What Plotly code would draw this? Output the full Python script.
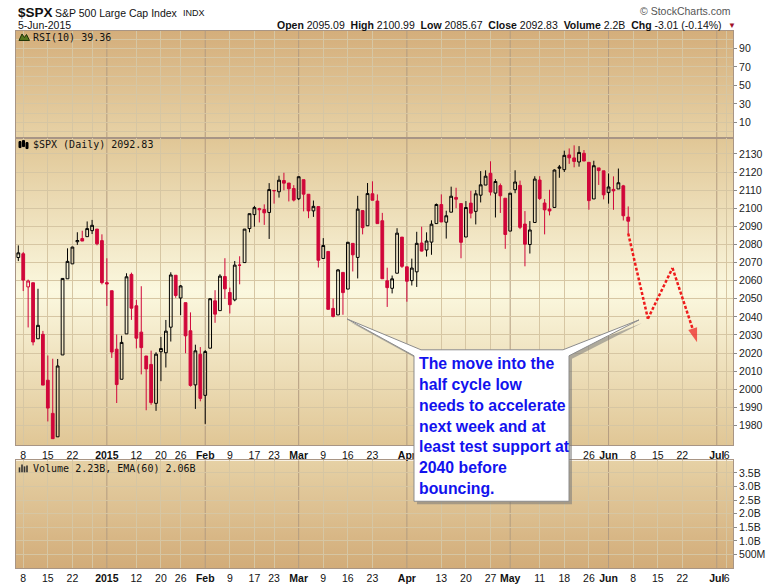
import base64
import pandas as pd
import plotly.graph_objects as go

# ---------------- data ----------------
opens = [2072.78, 2074.84, 2056.55, 2058.86, 2027.92, 2030.36, 2005.03, 1986.71, 1973.77, 2018.98,
         2061.04, 2069.28, 2081.48, 2083.25, 2084.30, 2087.63, 2088.49, 2082.11, 2058.90, 2054.44,
         2022.15, 2005.55, 2030.61, 2063.45, 2046.13, 2031.58, 2018.40, 2013.75, 1992.25, 2020.76,
         2020.19, 2034.30, 2062.98, 2050.42, 2047.86, 2032.34, 2002.45, 2019.35, 1996.67, 2022.71,
         2048.86, 2043.45, 2062.28, 2053.47, 2049.38, 2068.55, 2069.98, 2088.78, 2096.47, 2099.16,
         2099.25, 2097.65, 2109.83, 2109.10, 2115.30, 2113.91, 2110.88, 2105.23, 2115.76, 2107.72,
         2098.54, 2100.91, 2072.25, 2076.14, 2044.69, 2041.10, 2064.56, 2055.35, 2080.59, 2072.84,
         2098.69, 2090.32, 2107.99, 2103.94, 2093.10, 2059.94, 2055.78, 2064.11, 2084.05, 2067.63,
         2060.03, 2064.87, 2080.79, 2076.94, 2081.29, 2091.51, 2102.03, 2092.28, 2097.82, 2105.96,
         2102.58, 2084.11, 2102.82, 2098.27, 2107.21, 2112.80, 2119.29, 2108.35, 2112.49, 2105.52,
         2087.38, 2110.23, 2112.63, 2091.26, 2079.96, 2092.13, 2115.56, 2102.87, 2099.62, 2100.43,
         2122.07, 2121.30, 2129.45, 2127.79, 2125.55, 2130.36, 2125.34, 2105.13, 2122.27, 2120.66,
         2108.64, 2110.41, 2110.64, 2112.35, 2095.09]
highs = [2079.47, 2075.78, 2060.60, 2058.86, 2055.53, 2032.25, 2018.69, 2016.89, 2016.75, 2061.23,
         2077.85, 2078.76, 2086.73, 2087.56, 2092.70, 2093.55, 2088.49, 2085.58, 2072.36, 2054.44,
         2030.25, 2029.61, 2064.08, 2064.43, 2049.30, 2056.93, 2018.40, 2021.35, 2020.46, 2028.94,
         2038.29, 2064.62, 2062.98, 2057.62, 2047.86, 2042.49, 2024.64, 2023.32, 2021.66, 2050.30,
         2054.74, 2063.55, 2072.40, 2056.16, 2070.86, 2073.48, 2088.53, 2097.03, 2101.30, 2100.23,
         2102.13, 2113.86, 2110.05, 2117.94, 2119.59, 2113.91, 2112.74, 2117.52, 2115.76, 2107.72,
         2104.25, 2100.91, 2083.49, 2076.14, 2050.08, 2066.41, 2064.56, 2081.41, 2080.59, 2106.85,
         2098.69, 2113.92, 2114.86, 2107.63, 2097.43, 2067.15, 2062.83, 2088.97, 2084.05, 2067.63,
         2072.17, 2086.99, 2089.81, 2086.69, 2093.31, 2102.61, 2107.65, 2098.62, 2111.91, 2111.30,
         2102.58, 2103.94, 2109.64, 2109.98, 2120.49, 2120.92, 2125.92, 2116.04, 2113.65, 2105.52,
         2108.41, 2120.95, 2115.24, 2098.42, 2092.90, 2117.66, 2117.69, 2105.06, 2110.19, 2121.45,
         2123.89, 2131.78, 2133.02, 2134.72, 2134.28, 2132.15, 2125.34, 2126.22, 2122.27, 2120.66,
         2119.15, 2117.59, 2121.92, 2112.89, 2100.99]
lows = [2070.81, 2054.27, 2034.17, 2024.26, 2027.92, 2002.33, 1982.26, 1972.56, 1973.77, 2018.98,
        2061.03, 2069.28, 2079.77, 2081.86, 2084.30, 2085.75, 2079.53, 2057.94, 2046.04, 2017.34,
        1992.44, 2005.55, 2030.61, 2038.33, 2022.58, 2008.25, 1988.44, 1991.47, 1988.12, 2004.49,
        2012.04, 2026.38, 2050.54, 2040.97, 2019.91, 2001.49, 1989.18, 1993.38, 1980.90, 2022.71,
        2036.72, 2043.45, 2049.97, 2041.88, 2048.62, 2057.99, 2069.98, 2086.70, 2089.80, 2092.15,
        2090.79, 2083.04, 2102.54, 2105.87, 2109.89, 2103.76, 2103.75, 2104.50, 2098.26, 2094.49,
        2095.22, 2067.27, 2072.21, 2044.16, 2039.69, 2041.10, 2041.17, 2055.35, 2065.08, 2061.23,
        2085.56, 2090.32, 2104.42, 2091.50, 2061.05, 2045.50, 2052.96, 2064.11, 2067.04, 2048.38,
        2057.32, 2056.52, 2076.10, 2073.30, 2074.29, 2091.51, 2092.33, 2083.24, 2097.82, 2100.02,
        2072.37, 2084.11, 2094.38, 2091.05, 2103.19, 2112.80, 2107.04, 2094.89, 2097.41, 2077.59,
        2087.38, 2108.29, 2088.46, 2067.93, 2074.99, 2092.13, 2104.58, 2085.57, 2096.04, 2100.43,
        2116.81, 2120.01, 2124.50, 2122.59, 2122.95, 2126.06, 2099.18, 2105.13, 2112.86, 2104.89,
        2102.54, 2099.14, 2110.64, 2093.23, 2085.67]
closes = [2075.37, 2060.31, 2059.82, 2026.14, 2035.33, 2002.33, 1989.63, 1972.74, 2012.89, 2061.23,
          2070.65, 2078.54, 2082.17, 2081.88, 2088.77, 2090.57, 2080.35, 2058.90, 2058.20, 2020.58,
          2002.61, 2025.90, 2062.14, 2044.81, 2028.26, 2023.03, 2011.27, 1992.67, 2019.42, 2022.55,
          2032.12, 2063.15, 2051.82, 2057.09, 2029.55, 2002.16, 2021.25, 1994.99, 2020.85, 2050.03,
          2041.51, 2062.52, 2055.47, 2046.74, 2068.59, 2068.53, 2088.48, 2096.99, 2100.34, 2099.68,
          2097.45, 2110.30, 2109.66, 2115.48, 2113.86, 2110.74, 2104.50, 2117.39, 2107.78, 2098.53,
          2101.04, 2071.26, 2079.43, 2044.16, 2040.24, 2065.95, 2053.40, 2081.19, 2074.28, 2099.50,
          2089.27, 2108.10, 2104.42, 2091.50, 2061.05, 2056.15, 2061.02, 2086.24, 2067.89, 2059.69,
          2066.96, 2080.62, 2076.33, 2081.90, 2091.18, 2102.06, 2092.43, 2095.84, 2106.63, 2104.99,
          2081.18, 2100.40, 2097.29, 2107.96, 2112.93, 2117.69, 2108.92, 2114.76, 2106.85, 2085.51,
          2108.29, 2114.49, 2089.46, 2080.15, 2088.00, 2116.10, 2105.33, 2099.12, 2098.48, 2121.10,
          2122.73, 2129.20, 2127.83, 2125.85, 2130.82, 2126.06, 2104.20, 2123.48, 2120.79, 2107.39,
          2111.73, 2109.60, 2114.07, 2095.84, 2092.83]
prev_close_before_start = 2071.92

market_holidays = ['2014-12-25', '2015-01-01', '2015-01-19', '2015-02-16',
                   '2015-04-03', '2015-05-25', '2015-07-03']
calendar_start, calendar_end, last_bar_day = '2014-12-05', '2015-07-10', '2015-06-05'

tick_dates = ['2014-12-08', '2014-12-15', '2014-12-22', '2015-01-02', '2015-01-12',
              '2015-01-20', '2015-01-26', '2015-02-02', '2015-02-09', '2015-02-17', '2015-02-23',
              '2015-03-02', '2015-03-09', '2015-03-16', '2015-03-23', '2015-04-01', '2015-04-13',
              '2015-04-20', '2015-04-27', '2015-05-01', '2015-05-11', '2015-05-18', '2015-05-26',
              '2015-06-01', '2015-06-08', '2015-06-15', '2015-06-22', '2015-07-01', '2015-07-06']
tick_labels = ['8', '15', '22', '<b>2015</b>', '12', '20', '26', '<b>Feb</b>', '9', '17', '23',
               '<b>Mar</b>', '9', '16', '23', '<b>Apr</b>', '13', '20', '27', '<b>May</b>', '11', '18',
               '26', '<b>Jun</b>', '8', '15', '22', '<b>Jul</b>', '6']
# labels of the price panel hidden behind the callout box
hidden_price_labels = ['2015-04-13', '2015-04-20', '2015-04-27', '2015-05-01',
                       '2015-05-11', '2015-05-18']
week_grid_dates = ['2014-12-08', '2014-12-15', '2014-12-22', '2014-12-29', '2015-01-12',
                   '2015-01-20', '2015-01-26', '2015-02-09', '2015-02-17', '2015-02-23',
                   '2015-03-09', '2015-03-16', '2015-03-23', '2015-04-13', '2015-04-20',
                   '2015-04-27', '2015-05-11', '2015-05-18', '2015-05-26', '2015-06-08',
                   '2015-06-15', '2015-06-22', '2015-07-06']
month_dates = ['2015-01-02', '2015-02-02', '2015-03-02', '2015-04-01', '2015-05-01',
               '2015-06-01', '2015-07-01']

rsi_tick_values = [10, 30, 50, 70, 90]
price_tick_values = list(range(1980, 2131, 10))
volume_tick_values = [0.5e9, 1.0e9, 1.5e9, 2.0e9, 2.5e9, 3.0e9, 3.5e9]
volume_tick_labels = ['500M', '1.0B', '1.5B', '2.0B', '2.5B', '3.0B', '3.5B']

projection_dates = ['2015-06-05', '2015-06-11', '2015-06-18', '2015-06-25']
projection_values = [2086, 2039, 2067, 2026]

rsi_last = 39.36
volume_last, volume_ema60, volume_short = '2.23B', '2.06B', '2.2B'
change_abs, change_pct = -3.01, -0.14
note_lines = ['The move into the', 'half cycle low', 'needs to accelerate', 'next week and at',
              'least test support at', '2040 before', 'bouncing.']

# ---------------- helpers ----------------
# Reference geometry is 780x586; the page is rendered about 1.7% taller than it is captured,
# so the figure is built 596 px tall and every vertical pixel position is scaled with it.
W, H_REF = 780, 586
H = 596
SY = H / H_REF
ML, MR, MT, MB = 16, 47, 30 * SY, 17 * SY
RED = '#d0063a'
PROJ = '#ee1b1b'
GRID = '#d6c6a3'
MONTH = '#b39c80'
BORDER = '#a89585'
FONT = 'Liberation Sans, Arial, sans-serif'
MONO = 'DejaVu Sans Mono, monospace'


def fx(px):
    return (px - ML) / (W - ML - MR)


def fy(py):
    return (H - MB - py * SY) / (H - MT - MB)


cal = [d.strftime('%Y-%m-%d') for d in pd.bdate_range(calendar_start, calendar_end)]
cal = [d for d in cal if d not in market_holidays]
pos = {d: i for i, d in enumerate(cal)}
dates = [d for d in cal if d <= last_bar_day]
xs = [pos[d] for d in dates]
tick_x = [pos[d] for d in tick_dates]
week_x = [pos[d] for d in week_grid_dates]
price_tick_labels = ['' if d in hidden_price_labels else t for d, t in zip(tick_dates, tick_labels)]

prev = [prev_close_before_start] + closes[:-1]
black_idx = [i for i in range(len(closes)) if closes[i] >= prev[i]]
red_idx = [i for i in range(len(closes)) if closes[i] < prev[i]]

X_RANGE = [-0.47, 145.3]
RSI_RANGE = [-6.3, 108.7]
PRICE_RANGE = [1969.0, 2139.0]
VOL_RANGE = [0, 3.96e9]

fig = go.Figure()


def candles(idx, color):
    return go.Candlestick(
        x=[xs[i] for i in idx], open=[opens[i] for i in idx], high=[highs[i] for i in idx],
        low=[lows[i] for i in idx], close=[closes[i] for i in idx],
        xaxis='x2', yaxis='y2', whiskerwidth=0,
        increasing=dict(line=dict(color=color, width=1), fillcolor='rgba(0,0,0,0)'),
        decreasing=dict(line=dict(color=color, width=1), fillcolor=color),
        hoverinfo='skip', showlegend=False)


fig.add_trace(candles(black_idx, '#000000'))
fig.add_trace(candles(red_idx, RED))

proj_x = [pos[d] for d in projection_dates]
fig.add_trace(go.Scatter(
    x=proj_x, y=projection_values, xaxis='x2', yaxis='y2', mode='lines+markers',
    line=dict(color=PROJ, width=2.5, dash='3px,2px'),
    marker=dict(size=[0] * (len(proj_x) - 1) + [15], symbol='arrow', angleref='previous',
                color=PROJ, line=dict(width=0)),
    hoverinfo='skip', showlegend=False))

# empty traces to establish RSI and volume panels
fig.add_trace(go.Scatter(x=[None], y=[None], xaxis='x', yaxis='y', showlegend=False))
fig.add_trace(go.Scatter(x=[None], y=[None], xaxis='x3', yaxis='y3', showlegend=False))

rsi_dom = [fy(137), 1]
price_dom = [fy(446), fy(137)]
vol_dom = [0, fy(461)]

xcommon = dict(range=X_RANGE, tickmode='array', tickvals=tick_x, ticktext=tick_labels,
               tickangle=0, showgrid=False, zeroline=False, showline=True,
               linecolor=BORDER, linewidth=1, mirror=True, ticks='', fixedrange=True,
               tickfont=dict(family=FONT, size=10.5, color='#111'), domain=[0, 1],
               minor=dict(tickmode='array', tickvals=week_x, showgrid=True, gridcolor=GRID,
                          gridwidth=1, ticks=''))
ycommon = dict(side='right', showgrid=True, gridcolor=GRID, gridwidth=1, zeroline=False,
               showline=True, linecolor=BORDER, linewidth=1, mirror=True, ticks='outside',
               ticklen=3, tickcolor='#8a8a8a', fixedrange=True,
               tickfont=dict(family=FONT, size=10.5, color='#222'))

fig.update_layout(
    width=W, height=H, margin=dict(l=ML, r=MR, t=MT, b=MB, pad=0), autosize=False,
    paper_bgcolor='white', plot_bgcolor='rgba(0,0,0,0)', showlegend=False, boxgap=0.2,
    font=dict(family=FONT, size=10.5, color='#222'),
    xaxis=dict(xcommon, anchor='y', showticklabels=False),
    xaxis2=dict(xcommon, anchor='y2', ticktext=price_tick_labels,
                rangeslider=dict(visible=False)),
    xaxis3=dict(xcommon, anchor='y3'),
    yaxis=dict(ycommon, anchor='x', domain=rsi_dom, range=RSI_RANGE, tickmode='array',
               tickvals=rsi_tick_values,
               minor=dict(tickmode='linear', tick0=0, dtick=10, showgrid=True, gridcolor=GRID)),
    yaxis2=dict(ycommon, anchor='x2', domain=price_dom, range=PRICE_RANGE, tickmode='array',
                tickvals=price_tick_values),
    yaxis3=dict(ycommon, anchor='x3', domain=vol_dom, range=VOL_RANGE, tickmode='array',
                tickvals=volume_tick_values, ticktext=volume_tick_labels),
)


# ---------------- gradient panel backgrounds ----------------
def gradient_uri(stops):
    st = ''.join(f'<stop offset="{o}" stop-color="{c}"/>' for o, c in stops)
    svg = ('<svg xmlns="http://www.w3.org/2000/svg" width="100" height="100" viewBox="0 0 100 100" '
           'preserveAspectRatio="none"><defs><linearGradient id="g" x1="0" y1="0" x2="0" y2="1">'
           + st + '</linearGradient></defs><rect x="0" y="0" width="100" height="100" '
           'fill="url(#g)"/></svg>')
    return 'data:image/svg+xml;base64,' + base64.b64encode(svg.encode()).decode()


panels = [
    (rsi_dom, [(0, '#d4ae7b'), (1, '#e7d2a6')]),
    (price_dom, [(0, '#e0c695'), (0.5, '#fbf8df'), (1, '#e0c695')]),
    (vol_dom, [(0, '#e6d1a5'), (1, '#d2ac79')]),
]
images = []
for dom, stops in panels:
    images.append(dict(source=gradient_uri(stops), xref='paper', yref='paper', x=0, y=dom[1],
                       sizex=1, sizey=dom[1] - dom[0], xanchor='left', yanchor='top',
                       sizing='stretch', layer='below'))
fig.update_layout(images=images)

shapes = []
# darker month gridlines
for d in month_dates:
    for xa, ya in (('x', 'y'), ('x2', 'y2'), ('x3', 'y3')):
        shapes.append(dict(type='line', xref=xa, yref=ya + ' domain', x0=pos[d], x1=pos[d],
                           y0=0, y1=1, line=dict(color=MONTH, width=1), layer='below'))


def ppath(points):
    return 'M ' + ' L '.join(f'{fx(a):.5f},{fy(b):.5f}' for a, b in points) + ' Z'


# callout box with two tails (shadow first)
left_tip = (347, 319)
right_tip = (639, 320)
callout = [(414, 356), left_tip, (421, 350), (563, 350), right_tip, (569, 356),
           (569, 502), (414, 502)]
shadow = [(a + 3, b + 3) for a, b in callout]
shapes.append(dict(type='path', xref='paper', yref='paper', path=ppath(shadow),
                   fillcolor='rgba(120,120,120,0.55)', line=dict(width=0), layer='above'))
shapes.append(dict(type='path', xref='paper', yref='paper', path=ppath(callout),
                   fillcolor='white', line=dict(color='#8c8c8c', width=1), layer='above'))

# small panel icons
shapes.append(dict(type='path', xref='paper', yref='paper',
                   path=ppath([(19, 39.5), (22, 33), (24.5, 36.5), (26.5, 33.5), (29.5, 39.5)]),
                   fillcolor='#56761f', line=dict(color='#1f3306', width=1), layer='above'))
for a, b0, b1 in ((20, 141, 147), (23.5, 140, 146), (27, 142, 148)):
    shapes.append(dict(type='rect', xref='paper', yref='paper', x0=fx(a - 1), x1=fx(a + 1),
                       y0=fy(b1), y1=fy(b0), fillcolor='#000', line=dict(color='#000', width=1),
                       layer='above'))
for a, b0 in ((19.5, 468), (22, 465), (24.5, 467), (27, 466)):
    shapes.append(dict(type='rect', xref='paper', yref='paper', x0=fx(a - 0.8), x1=fx(a + 0.8),
                       y0=fy(473), y1=fy(b0), fillcolor='#333', line=dict(width=0),
                       layer='above'))
fig.update_layout(shapes=shapes)

# ---------------- texts ----------------
ann = []


def text(px, py, s, size, anchor='left', color='#111', family=FONT, yanchor='middle'):
    ann.append(dict(x=fx(px), y=fy(py), xref='paper', yref='paper', text=s, showarrow=False,
                    xanchor=anchor, yanchor=yanchor, align=anchor,
                    font=dict(family=family, size=size, color=color)))


text(16, 11, '<b>$SPX</b>', 13.5)
text(53, 11.5, 'S&P 500 Large Cap Index', 10.5)
text(181, 11.5, 'INDX', 9)
text(16, 24, '5-Jun-2015', 10.5)
stats = (f'<b>Open</b> {opens[-1]:.2f}  <b>High</b> {highs[-1]:.2f}  <b>Low</b> {lows[-1]:.2f}  '
         f'<b>Close</b> {closes[-1]:.2f}  <b>Volume</b> {volume_short}  '
         f'<b>Chg</b> {change_abs:.2f} ({change_pct:.2f}%)')
text(724, 24, stats, 10.5, anchor='right')
text(726, 24.5, '▼', 8, color='#a0102a')
text(733, 10, '© StockCharts.com', 10.5, anchor='right', color='#555')

text(31, 36.5, f'RSI(10) {rsi_last:.2f}', 10, family=MONO)
text(31, 144, f'$SPX (Daily) {closes[-1]:.2f}', 10, family=MONO)
text(31, 469, f'Volume {volume_last}, EMA(60) {volume_ema60}', 10, family=MONO)

for k, line in enumerate(note_lines):
    text(417, 363.5 + 21.0 * k, f'<b>{line}</b>', 15.8, color='#1212ee')

fig.update_layout(annotations=ann)

# pin the figure to the top-left corner of the window (no page margin, no scrollbars)
fig.write_html(
    'out.html',
    config={'displayModeBar': False, 'responsive': False},
    post_script=("document.documentElement.style.margin='0px';"
                 "document.body.style.margin='0px';"
                 "document.body.style.overflow='hidden';"
                 "document.documentElement.style.overflow='hidden';"
                 "var gd=document.getElementById('{plot_id}');"
                 "gd.style.position='fixed';gd.style.left='0px';gd.style.top='0px';"))
